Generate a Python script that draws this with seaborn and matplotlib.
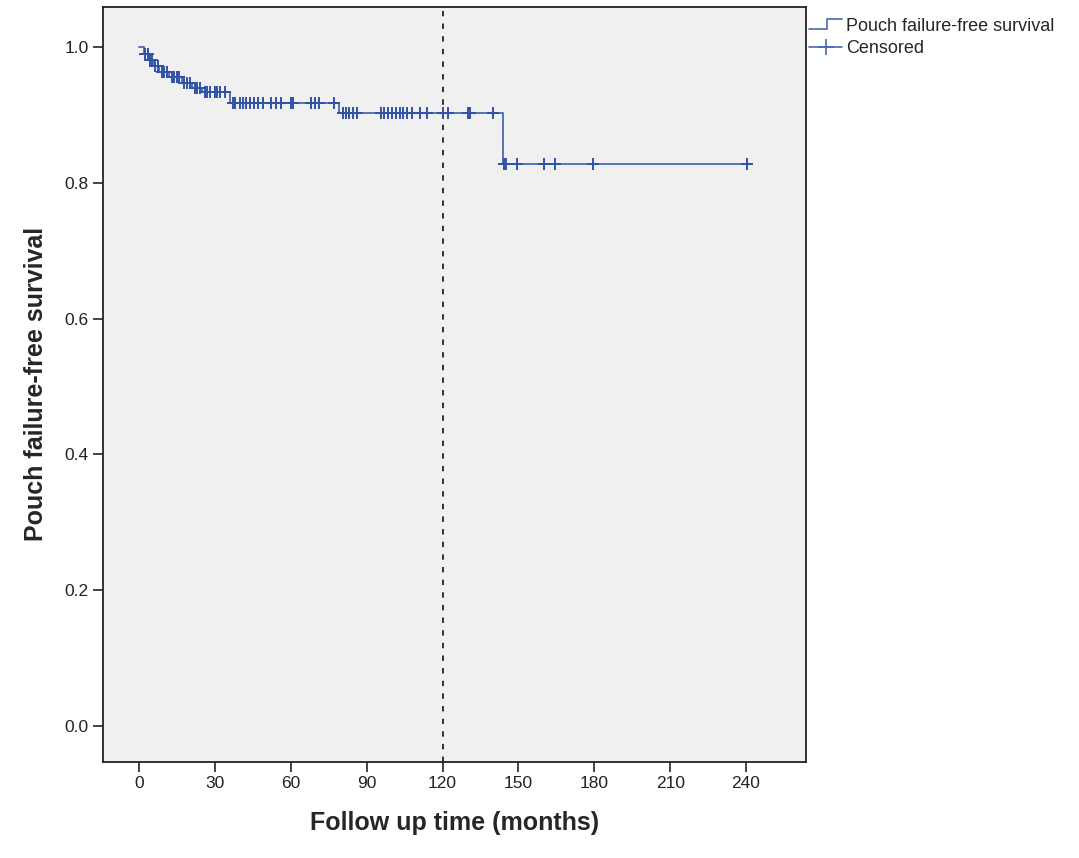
import numpy as np
import pandas as pd
import matplotlib
matplotlib.use('Agg')
import matplotlib.pyplot as plt
import seaborn as sns
from matplotlib.lines import Line2D
from matplotlib.legend_handler import HandlerBase

# step curve (months, survival)
step_time = [0, 2, 4, 6, 8, 12, 17, 21, 25, 36, 79, 144, 241.5]
step_surv = [1.0, 0.990, 0.981, 0.972, 0.963, 0.955, 0.947, 0.940, 0.934,
             0.918, 0.902, 0.827, 0.827]

# censored observations (months)
censor_time = [2.5, 3.5, 4.5, 5, 6.5, 7.5, 9, 10, 11, 13, 14, 15, 16, 18, 19, 20,
               22, 23, 24, 26, 27, 28, 30, 31, 32, 34,
               37, 38, 40, 41, 42.5, 44, 45.5, 47, 49, 52, 54, 56, 60, 61,
               68, 69.5, 71, 77,
               80.5, 82, 83, 84.5, 86, 95.5, 97, 98.5, 100, 101.5, 103, 104.5,
               106, 108, 111, 114, 120, 122, 130, 131, 140,
               144.3, 145.2, 149.5, 160, 164.5, 179.5, 240.5]

line_col = '#4a68b4'
mark_col = '#3152a6'

curve = pd.DataFrame({'time': step_time, 'surv': step_surv})
idx = np.searchsorted(step_time, censor_time, side='right') - 1
cens = pd.DataFrame({'time': censor_time, 'surv': np.array(step_surv)[idx]})

sns.set_style('ticks', {'axes.facecolor': '#f0f0f0', 'axes.edgecolor': '#222222'})
plt.rcParams['font.family'] = ['Liberation Sans', 'DejaVu Sans']

fig = plt.figure(figsize=(10.79, 8.58), dpi=100)
ax = fig.add_axes([0.0955, 0.112, 0.6515, 0.88])

sns.lineplot(data=curve, x='time', y='surv', drawstyle='steps-post',
             color=line_col, linewidth=1.3, ax=ax, estimator=None)
sns.scatterplot(data=cens, x='time', y='surv', marker='+', s=70,
                color=mark_col, linewidth=1.4, ax=ax, zorder=3)
ax.axvline(120, color='#222222', linestyle=(0, (3, 4)), linewidth=1.3)

ax.set_xlim(-14.2, 263.7)
ax.set_ylim(-0.053, 1.059)
ax.set_xticks(range(0, 241, 30))
ax.set_yticks([0.0, 0.2, 0.4, 0.6, 0.8, 1.0])
ax.set_yticklabels(['0.0', '0.2', '0.4', '0.6', '0.8', '1.0'])
ax.tick_params(axis='both', direction='out', length=7, width=1.2,
               labelsize=12.5, colors='#222222')
for sp in ax.spines.values():
    sp.set_linewidth(1.3)

ax.set_xlabel('Follow up time (months)', fontsize=18, fontweight='bold', labelpad=14)
ax.set_ylabel('Pouch failure-free survival', fontsize=18, fontweight='bold', labelpad=12)


class StepHandler(HandlerBase):
    def create_artists(self, legend, orig_handle, xdescent, ydescent,
                       width, height, fontsize, trans):
        xs = np.array([0, width * 0.55, width * 0.55, width]) - xdescent
        ys = np.array([height * 0.15, height * 0.15, height * 0.95, height * 0.95]) - ydescent
        return [Line2D(xs, ys, color=line_col, linewidth=1.2, transform=trans)]


h_line = Line2D([], [], color=line_col)
h_cens = Line2D([], [], color=line_col, marker='+', markersize=12,
                markeredgewidth=1.2, linewidth=1.2)
ax.legend([h_line, h_cens], ['Pouch failure-free survival', 'Censored'],
          handler_map={h_line: StepHandler()},
          loc='upper left', bbox_to_anchor=(0.997, 0.993), frameon=False,
          fontsize=13, handlelength=1.8, handletextpad=0.25,
          labelspacing=0.3, borderaxespad=0, borderpad=0.3)

fig.savefig('out.png', dpi=100)
